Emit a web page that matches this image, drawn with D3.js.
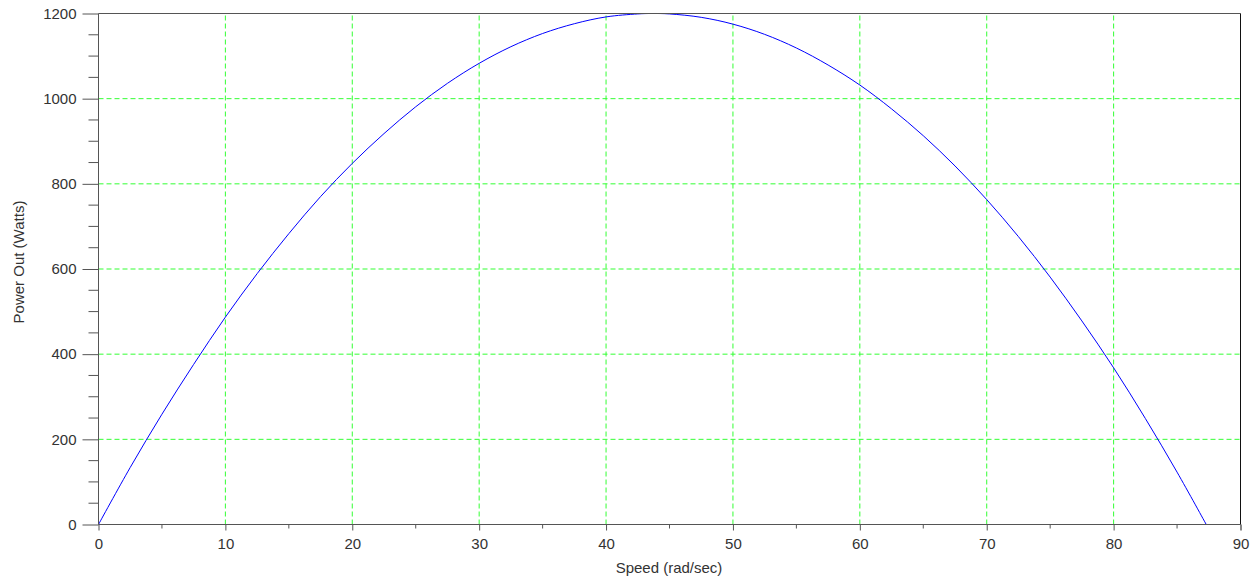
<!DOCTYPE html>
<html lang="en">
<head>
  <meta charset="UTF-8">
  <script src="https://d3js.org/d3.v7.min.js"></script>
  <style>
    body {
      background-color: #fff;
      margin: 0;
      overflow: hidden;
    }

    svg {
      display: block;
      font-family: "Liberation Sans", Arial, sans-serif;
    }

    .grid line {
      stroke: #33ff33;
      stroke-dasharray: 5,3;
    }

    text {
      fill: #333;
      font-size: 15px;
    }
  </style>
</head>
<body>

<svg width="1260" height="581"></svg>

<script>
  // speed (rad/sec) and power
  const speed = [0, 2.5, 5, 7.5, 10, 12.5, 15, 17.5, 20, 22.5, 25, 27.5, 30, 32.5, 35, 37.5, 40, 42.5, 43.6,
    45, 47.5, 50, 52.5, 55, 57.5, 60, 62.5, 65, 67.5, 70, 72.5, 75, 77.5, 80, 82.5, 85, 87.3];
  const power = [0, 134, 259, 376, 487, 589, 683, 770, 848, 918, 981, 1036, 1083, 1122, 1153, 1176, 1192, 1199, 1200,
    1199, 1191, 1175, 1151, 1119, 1079, 1032, 976, 913, 842, 763, 676, 581, 478, 368, 249, 123, 0];

  const xTicks = [0, 10, 20, 30, 40, 50, 60, 70, 80, 90];
  const yTicks = [0, 200, 400, 600, 800, 1000, 1200];

  const svg = d3.select('svg');

  const x = d3.scaleLinear().domain([0, 90]).range([98.5, 1240.5]);
  const y = d3.scaleLinear().domain([0, 1200]).range([524.5, 13.5]);

  // grid
  const grid = svg.append('g').attr('class', 'grid');
  grid.selectAll('.gx')
    .data(xTicks.slice(1, -1))
    .enter().append('line')
    .attr('x1', d => x(d)).attr('x2', d => x(d))
    .attr('y1', y(0)).attr('y2', y(1200));
  grid.selectAll('.gy')
    .data(yTicks.slice(1, -1))
    .enter().append('line')
    .attr('x1', x(0)).attr('x2', x(90))
    .attr('y1', d => y(d)).attr('y2', d => y(d));

  // curve
  const pts = speed.map((s, i) => [s, power[i]]);
  svg.append('path')
    .datum(pts)
    .attr('fill', 'none')
    .attr('stroke', '#0000ff')
    .attr('stroke-width', 1)
    .attr('d', d3.line().x(d => x(d[0])).y(d => y(d[1])).curve(d3.curveCatmullRom));

  // frame
  svg.append('line')
    .attr('x1', x(0)).attr('x2', x(90)).attr('y1', y(1200)).attr('y2', y(1200))
    .attr('stroke', '#555');
  svg.append('line')
    .attr('x1', x(90)).attr('x2', x(90)).attr('y1', y(0)).attr('y2', y(1200))
    .attr('stroke', '#111');

  // axes
  const xAxis = d3.axisBottom(x).tickValues(xTicks).tickSize(6).tickPadding(8).tickFormat(d3.format('d'));
  const gx = svg.append('g').attr('transform', `translate(0,${y(0)})`).call(xAxis);
  gx.selectAll('.minor')
    .data(d3.range(5, 90, 10))
    .enter().append('line')
    .attr('class', 'minor')
    .attr('x1', d => x(d)).attr('x2', d => x(d))
    .attr('y1', 0).attr('y2', 4)
    .attr('stroke', '#555');

  const yAxis = d3.axisLeft(y).tickValues(yTicks).tickSize(16).tickPadding(6).tickFormat(d3.format('d'));
  const gy = svg.append('g').attr('transform', `translate(${x(0)},0)`).call(yAxis);
  gy.selectAll('.minor')
    .data(d3.range(50, 1200, 50).filter(v => v % 200 !== 0))
    .enter().append('line')
    .attr('class', 'minor')
    .attr('x1', -10).attr('x2', 0)
    .attr('y1', d => y(d)).attr('y2', d => y(d))
    .attr('stroke', '#555');

  [gx, gy].forEach(g => {
    g.select('.domain').attr('stroke', '#555');
    g.selectAll('.tick line').attr('stroke', '#555');
    g.selectAll('.tick text').attr('font-family', '"Liberation Sans", Arial, sans-serif');
  });
  gx.selectAll('.tick').filter(d => d === 90).select('line').attr('stroke', '#111');
  gx.select('.domain').attr('d', `M${x(0)},0H${x(90)}`);
  gy.select('.domain').attr('d', `M0,${y(0)}V${y(1200)}`);

  // labels
  svg.append('text')
    .attr('x', 669).attr('y', 573)
    .attr('text-anchor', 'middle')
    .text('Speed (rad/sec)');
  svg.append('text')
    .attr('transform', 'translate(24,262) rotate(-90)')
    .attr('text-anchor', 'middle')
    .text('Power Out (Watts)');
</script>

</body>
</html>
